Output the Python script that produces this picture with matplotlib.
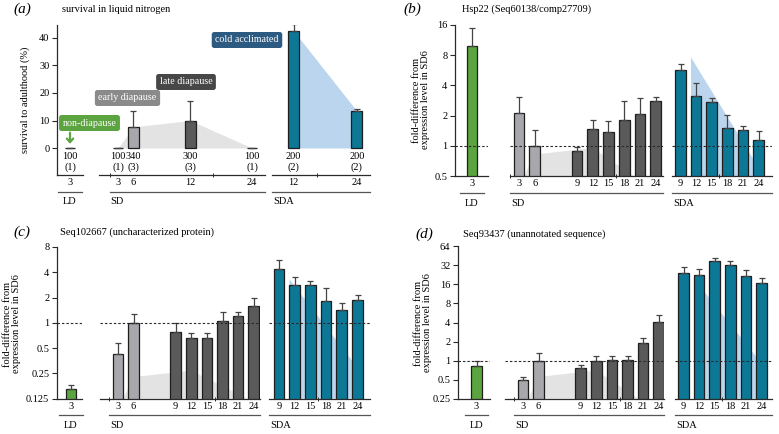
import numpy as np
import matplotlib
matplotlib.use('Agg')
import matplotlib.pyplot as plt
from matplotlib.ticker import FixedLocator, NullLocator
from matplotlib.transforms import blended_transform_factory

plt.rcParams['font.family'] = ['Liberation Serif', 'DejaVu Serif']
plt.rcParams['font.size'] = 7.5

# ---------------- data ----------------
# (a) survival in liquid nitrogen (%), upper error bound, sample size (replicates)
a_ld_hours = [3]
a_ld_surv = [0]
a_ld_hi = [0]
a_ld_n = ['100\n(1)']
a_sd_hours = [3, 6, 12, 24]
a_sd_surv = [0, 7.7, 10, 0]
a_sd_hi = [0, 13.5, 17, 0]
a_sd_n = ['100\n(1)', '340\n(3)', '300\n(3)', '100\n(1)']
a_sda_hours = [12, 24]
a_sda_surv = [42.5, 13.5]
a_sda_hi = [45, 14]
a_sda_n = ['200\n(2)', '200\n(2)']

# (b)-(d) fold-difference from expression level in SD6
ld_hours = [3]
sd_hours = [3, 6, 9, 12, 15, 18, 21, 24]
sda_hours = [9, 12, 15, 18, 21, 24]

b_ld, b_ld_hi = [9.8], [14.9]
b_sd = [2.12, 1.0, 0.89, 1.47, 1.37, 1.79, 2.08, 2.77]
b_sd_hi = [3.1, 1.44, 0.97, 1.82, 1.75, 2.77, 3.03, 3.1]
b_sda = [5.7, 3.17, 2.75, 1.5, 1.44, 1.14]
b_sda_hi = [6.6, 4.2, 3.03, 2.05, 1.57, 1.4]

c_ld, c_ld_hi = [0.163], [0.18]
c_sd = [0.42, 1.0, 0.77, 0.66, 0.66, 1.05, 1.2, 1.59]
c_sd_hi = [0.57, 1.29, 1.0, 0.76, 0.76, 1.35, 1.35, 1.98]
c_sda = [4.43, 2.86, 2.86, 1.83, 1.44, 1.86]
c_sda_hi = [5.66, 3.53, 3.13, 2.59, 1.74, 2.14]

d_ld, d_ld_hi = [0.83], [1.0]
d_sd = [0.49, 1.0, 0.76, 0.99, 1.02, 1.02, 1.92, 4.09]
d_sd_hi = [0.56, 1.3, 0.85, 1.2, 1.2, 1.18, 2.25, 5.28]
d_sda = [24, 22.6, 38, 32.5, 22, 16.7]
d_sda_hi = [29.8, 27.7, 41.4, 38, 27, 20.5]

# ---------------- style ----------------
GREEN = '#5ba43f'
LGREY = '#a7a7ac'
DGREY = '#5a5a5a'
TEAL = '#0d7896'
SHADE_G = '#e3e3e3'
SHADE_B = '#bcd5ee'
DARK = '#2a2a2a'
LINE = '#555555'

W, H = 779, 434
fig = plt.figure(figsize=(W / 100, H / 100), dpi=100)


def px_axes(x0, x1, y0, y1):
    return fig.add_axes([x0 / W, 1 - y1 / H, (x1 - x0) / W, (y1 - y0) / H])


def sd_pos(hours):
    return [h / 3 - 1 if h <= 6 else h / 3 + 0.7 for h in hours]


def sda_pos(hours):
    return [h / 3 - 3 for h in hours]


def sd_colors(hours):
    return [LGREY if h <= 6 else DGREY for h in hours]


def setup(ax, xpx, p0, s, ylim, log=False, left=False, yticks=None):
    ax.patch.set_alpha(0)
    ax.set_xlim((xpx[0] - p0) / s, (xpx[1] - p0) / s)
    if log:
        ax.set_yscale('log', base=2)
    ax.set_ylim(*ylim)
    ax.spines['top'].set_visible(False)
    ax.spines['right'].set_visible(False)
    ax.spines['bottom'].set_color(DARK)
    ax.spines['bottom'].set_linewidth(0.9)
    ax.yaxis.set_minor_locator(NullLocator())
    if left:
        ax.spines['left'].set_color(DARK)
        ax.spines['left'].set_linewidth(0.9)
        ax.yaxis.set_major_locator(FixedLocator(yticks))
        ax.set_yticklabels(['%g' % v for v in yticks])
        ax.tick_params(axis='y', length=3.5, width=0.8, color=DARK, pad=2, labelsize=7.5)
    else:
        ax.spines['left'].set_visible(False)
        ax.tick_params(axis='y', which='both', left=False, labelleft=False)
    ax.tick_params(axis='x', which='major', length=0, pad=2.5, labelsize=7.5)
    ax.tick_params(axis='x', which='minor', length=2.5, width=0.7, color=DARK, direction='inout')


def bars(ax, x, vals, hi, colors, base=0):
    vals = np.array(vals, float)
    err = np.array(hi, float) - vals
    ax.bar(x, vals - base, bottom=base, width=0.68, color=colors,
           edgecolor='#1e1e1e', linewidth=0.9, zorder=3)
    ax.errorbar(x, vals, yerr=[np.zeros(len(vals)), err], fmt='none',
                ecolor='#444444', elinewidth=0.9, capsize=2.2, capthick=0.9, zorder=4)


def group(ax, label, x0, x1, axis_h, centre=False):
    tr = blended_transform_factory(ax.transData, ax.transAxes)
    ax.plot([x0, x1], [-16.5 / axis_h] * 2, transform=tr, clip_on=False, color=LINE, lw=0.9)
    if centre:
        ax.text((x0 + x1) / 2, -27 / axis_h, label, transform=tr, ha='center', va='center')
    else:
        ax.text(x0 + 0.05, -27 / axis_h, label, transform=tr, ha='left', va='center')


# ---------------- panel (a) ----------------
ya = (25, 175)
ylim_a = (-9.8, 44.7)
ah = ya[1] - ya[0]

ax = px_axes(57, 83, *ya)
setup(ax, (57, 83), 70, 15.6, ylim_a, left=True, yticks=[0, 10, 20, 30, 40])
bars(ax, [0], a_ld_surv, a_ld_hi, [GREEN])
ax.set_xticks([0], [str(h) for h in a_ld_hours])
for x, t in zip([0], a_ld_n):
    ax.text(x, -5.1, t, ha='center', va='center', linespacing=1.15)
group(ax, 'LD', -0.75, 0.75, ah, centre=True)
ax.annotate('', xy=(0, 0.5), xytext=(0, 6.6),
            arrowprops=dict(arrowstyle='->,head_width=0.3,head_length=0.35', color=GREEN, lw=1.6))
ax_a_ld = ax

ax = px_axes(99, 265, *ya)
setup(ax, (99, 265), 118, 15.4, ylim_a)
xs = sd_pos(a_sd_hours)
ax.fill_between(xs, a_sd_surv, 0, color=SHADE_G, lw=0, zorder=1)
bars(ax, xs, a_sd_surv, a_sd_hi, sd_colors(a_sd_hours))
ax.set_xticks(xs, [str(h) for h in a_sd_hours])
ax.set_xticks([-0.55, 6.2], minor=True)
for x, t in zip(xs, a_sd_n):
    ax.text(x, -5.1, t, ha='center', va='center', linespacing=1.15)
group(ax, 'SD', -0.55, ax.get_xlim()[1], ah)

ax = px_axes(272, 370, *ya)
setup(ax, (272, 370), 278, 15.75, ylim_a)
xs = sda_pos(a_sda_hours)
ax.fill_between(xs, a_sda_surv, 0, color=SHADE_B, lw=0, zorder=1)
bars(ax, xs, a_sda_surv, a_sda_hi, [TEAL] * len(xs))
ax.set_xticks(xs, [str(h) for h in a_sda_hours])
ax.set_xticks([2.47], minor=True)
for x, t in zip(xs, a_sda_n):
    ax.text(x, -5.1, t, ha='center', va='center', linespacing=1.15)
group(ax, 'SDA', ax.get_xlim()[0], ax.get_xlim()[1], ah)

boxes = [('non-diapause', 89.5, 123, GREEN),
         ('early diapause', 127.5, 98, '#8a8a8a'),
         ('late diapause', 186, 82, '#474747'),
         ('cold acclimated', 247, 40, '#2c5a80')]
for txt, bx, by, fc in boxes:
    fig.text(bx / W, 1 - by / H, txt, ha='center', va='center', color='white', fontsize=7.2,
             bbox=dict(boxstyle='round,pad=0.35,rounding_size=0.25', fc=fc, ec='none'))

# ---------------- expression panels ----------------
SCALE = 0.0185   # silhouette height (axes fraction) per % survival


def expr_panel(geo, ylim, yticks, ld, ld_hi, sd, sd_hi, sda, sda_hi, grey_end, blue_end):
    (ldx, ld_c), (sdx, sd_p0, sd_s), (sdax, sda_p0, sda_s), yy = geo
    h = yy[1] - yy[0]
    # LD
    ax = px_axes(ldx[0], ldx[1], *yy)
    setup(ax, ldx, ld_c, 15.6, ylim, log=True, left=True, yticks=yticks)
    bars(ax, [0], ld, ld_hi, [GREEN], base=ylim[0])
    ax.axhline(1, ls=(0, (2.2, 1.8)), color=DARK, lw=0.8, zorder=5)
    ax.set_xticks([0], [str(v) for v in ld_hours])
    group(ax, 'LD', -0.75, 0.75, h, centre=True)
    # SD
    ax = px_axes(sdx[0], sdx[1], *yy)
    setup(ax, sdx, sd_p0, sd_s, ylim, log=True)
    xs = sd_pos(sd_hours)
    tr = blended_transform_factory(ax.transData, ax.transAxes)
    p = dict(zip(a_sd_hours, sd_pos(a_sd_hours)))
    s = dict(zip(a_sd_hours, a_sd_surv))
    ax.fill([p[3] + 0.33, p[6], p[12], grey_end],
            [0, s[6] * SCALE, s[12] * SCALE, 0], transform=tr, color=SHADE_G, lw=0, zorder=1)
    bars(ax, xs, sd, sd_hi, sd_colors(sd_hours), base=ylim[0])
    ax.axhline(1, ls=(0, (2.2, 1.8)), color=DARK, lw=0.8, zorder=5)
    ax.set_xticks(xs, [str(v) for v in sd_hours])
    ax.set_xticks([-0.55, 6.2], minor=True)
    group(ax, 'SD', -0.55, ax.get_xlim()[1], h)
    # SDA
    ax = px_axes(sdax[0], sdax[1], *yy)
    setup(ax, sdax, sda_p0, sda_s, ylim, log=True)
    xs = sda_pos(sda_hours)
    tr = blended_transform_factory(ax.transData, ax.transAxes)
    q = dict(zip(a_sda_hours, sda_pos(a_sda_hours)))
    ax.fill([q[12] - 0.33, q[12] - 0.33, q[24] + 0.33, q[24] + 0.33],
            [0, a_sda_surv[0] * SCALE, blue_end, 0], transform=tr, color=SHADE_B, lw=0, zorder=1)
    bars(ax, xs, sda, sda_hi, [TEAL] * len(xs), base=ylim[0])
    ax.axhline(1, ls=(0, (2.2, 1.8)), color=DARK, lw=0.8, zorder=5)
    ax.set_xticks(xs, [str(v) for v in sda_hours])
    ax.set_xticks([2.47], minor=True)
    group(ax, 'SDA', ax.get_xlim()[0], ax.get_xlim()[1], h)


expr_panel((((455, 488), 472), ((510, 663), 519, 15.7), ((672, 772), 680.5, 15.6), (25, 176)),
           (0.5, 16), [0.5, 1, 2, 4, 8, 16], b_ld, b_ld_hi, b_sd, b_sd_hi, b_sda, b_sda_hi, 7.3, 0.0)
expr_panel((((57, 82), 71), ((100, 260), 118, 15.6), ((269, 370), 279, 15.7), (247, 398.7)),
           (0.125, 8), [0.125, 0.25, 0.5, 1, 2, 4, 8], c_ld, c_ld_hi, c_sd, c_sd_hi, c_sda, c_sda_hi, 8.3, 0.16)
expr_panel((((458, 490), 476.5), ((505, 664), 523, 15.6), ((675, 772), 683.5, 15.6), (246.3, 398.7)),
           (0.25, 64), [0.25, 0.5, 1, 2, 4, 8, 16, 32, 64], d_ld, d_ld_hi, d_sd, d_sd_hi, d_sda, d_sda_hi, 7.4, 0.19)

# ---------------- titles and y labels ----------------
titles = [('(a)', 13, 9, 'survival in liquid nitrogen', 62),
          ('(b)', 403, 9, 'Hsp22 (Seq60138/comp27709)', 462),
          ('(c)', 13, 232, 'Seq102667 (uncharacterized protein)', 60),
          ('(d)', 415, 234, 'Seq93437 (unannotated sequence)', 463)]
for lab, lx, ly, txt, tx in titles:
    fig.text(lx / W, 1 - ly / H, lab, ha='left', va='center', fontsize=11, style='italic')
    fig.text(tx / W, 1 - ly / H, txt, ha='left', va='center', fontsize=7.5)

ylabs = [('survival to adulthood (%)', 25, 100),
         ('fold-difference from\nexpression level in SD6', 421, 100),
         ('fold-difference from\nexpression level in SD6', 12, 324),
         ('fold-difference from\nexpression level in SD6', 423, 323)]
for txt, x, y in ylabs:
    fig.text(x / W, 1 - y / H, txt, rotation=90, ha='center', va='center',
             fontsize=7.5, linespacing=1.1)

fig.savefig('out.png', dpi=100)
